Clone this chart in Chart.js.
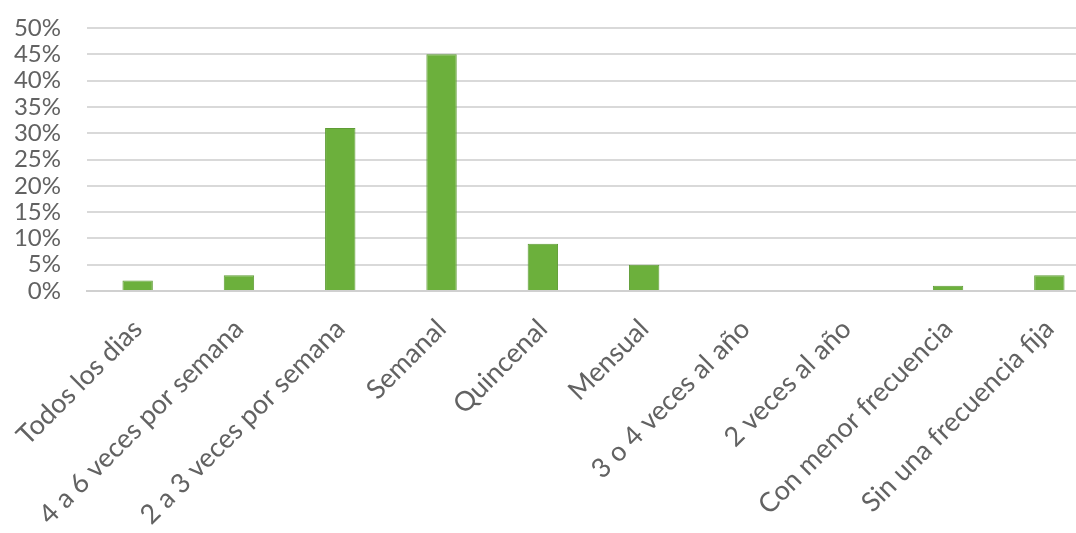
<!DOCTYPE html>
<html>
<head>
<meta charset="utf-8">
<script src="https://cdn.jsdelivr.net/npm/chart.js@4/dist/chart.umd.min.js"></script>
<style>
  html, body { margin: 0; padding: 0; background: #ffffff; overflow: hidden; }
  #wrap { width: 1100px; height: 533px; position: relative; }
</style>
</head>
<body>
<div id="wrap"><canvas id="c"></canvas></div>
<script>
const categories = [
  "Todos los dias",
  "4 a 6 veces por semana",
  "2 a 3 veces por semana",
  "Semanal",
  "Quincenal",
  "Mensual",
  "3 o 4 veces al año",
  "2 veces al año",
  "Con menor frecuencia",
  "Sin una frecuencia fija"
];
const percentValues = [2, 3, 31, 45, 9, 5, 0, 0, 1, 3];
const yTickValues = [0, 5, 10, 15, 20, 25, 30, 35, 40, 45, 50];

const FONT = "Lato, 'Open Sans', sans-serif";
const TEXT = "#626262";

new Chart(document.getElementById('c'), {
  type: 'bar',
  data: {
    labels: categories,
    datasets: [{
      data: percentValues,
      backgroundColor: '#6cb03c',
      borderColor: '#5f9c36',
      borderWidth: 1,
      categoryPercentage: 1,
      barPercentage: 0.3
    }]
  },
  options: {
    responsive: true,
    maintainAspectRatio: false,
    animation: false,
    layout: { padding: { top: 28, left: 0, right: 0, bottom: 0 } },
    plugins: { legend: { display: false }, tooltip: { enabled: false } },
    scales: {
      x: {
        grid: { display: false },
        border: { display: true, color: '#d0d0d0', width: 2 },
        ticks: {
          autoSkip: false,
          maxRotation: 45,
          minRotation: 45,
          padding: 14,
          color: TEXT,
          font: { family: FONT, size: 27 }
        },
        afterFit: (axis) => { axis.height = 242; axis.paddingTop = 0; axis.paddingBottom = 0; }
      },
      y: {
        min: 0,
        max: 50,
        afterBuildTicks: (axis) => { axis.ticks = yTickValues.map(v => ({ value: v })); },
        grid: { color: '#d9d9d9', lineWidth: 2, drawTicks: false },
        border: { display: false },
        ticks: {
          autoSkip: false,
          padding: 26,
          color: TEXT,
          font: { family: FONT, size: 24 },
          callback: (v) => v + '%'
        },
        afterFit: (axis) => { axis.width = 87; axis.paddingTop = 0; axis.paddingBottom = 0; }
      }
    }
  }
});
</script>
</body>
</html>
